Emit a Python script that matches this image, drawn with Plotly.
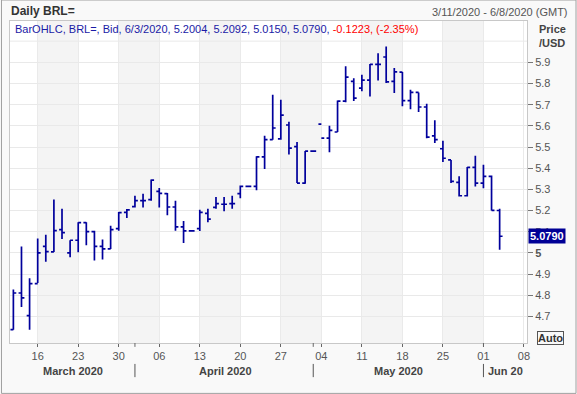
import plotly.graph_objects as go

# ---------------- data ----------------
dates = [
    "2020-03-11", "2020-03-12", "2020-03-13",
    "2020-03-16", "2020-03-17", "2020-03-18", "2020-03-19", "2020-03-20",
    "2020-03-23", "2020-03-24", "2020-03-25", "2020-03-26", "2020-03-27",
    "2020-03-30", "2020-03-31", "2020-04-01", "2020-04-02", "2020-04-03",
    "2020-04-06", "2020-04-07", "2020-04-08", "2020-04-09", "2020-04-10",
    "2020-04-13", "2020-04-14", "2020-04-15", "2020-04-16", "2020-04-17",
    "2020-04-20", "2020-04-21", "2020-04-22", "2020-04-23", "2020-04-24",
    "2020-04-27", "2020-04-28", "2020-04-29", "2020-04-30", "2020-05-01",
    "2020-05-04", "2020-05-05", "2020-05-06", "2020-05-07", "2020-05-08",
    "2020-05-11", "2020-05-12", "2020-05-13", "2020-05-14", "2020-05-15",
    "2020-05-18", "2020-05-19", "2020-05-20", "2020-05-21", "2020-05-22",
    "2020-05-25", "2020-05-26", "2020-05-27", "2020-05-28", "2020-05-29",
    "2020-06-01", "2020-06-02", "2020-06-03",
]
open_ = [
    4.638, 4.811, 4.704,
    4.855, 5.031, 5.005, 5.110, 5.000,
    5.060, 5.143, 5.101, 5.031, 5.019,
    5.115, 5.192, 5.219, 5.247, 5.252,
    5.291, 5.280, 5.217, 5.123, 5.104,
    5.115, 5.187, 5.215, 5.230, 5.233,
    5.280, 5.314, 5.314, 5.454, 5.535,
    5.539, 5.604, 5.502, 5.330, 5.481,
    5.608, 5.542, 5.571, 5.717, 5.810,
    5.778, 5.816, 5.890, 5.925, 5.810,
    5.854, 5.719, 5.758, 5.689, 5.553,
    5.492, 5.439, 5.333, 5.270, 5.404,
    5.330, 5.362, 5.2004,
]
high = [
    4.827, 5.031, 4.881,
    5.068, 5.086, 5.252, 5.209, 5.060,
    5.145, 5.145, 5.105, 5.063, 5.129,
    5.193, 5.208, 5.270, 5.280, 5.347,
    5.307, 5.283, 5.247, 5.151, 5.104,
    5.204, 5.209, 5.264, 5.264, 5.270,
    5.319, 5.314, 5.456, 5.553, 5.747,
    5.723, 5.619, 5.524, 5.481, 5.481,
    5.542, 5.601, 5.720, 5.881, 5.825,
    5.841, 5.892, 5.943, 5.975, 5.873,
    5.854, 5.770, 5.758, 5.704, 5.626,
    5.530, 5.439, 5.362, 5.406, 5.459,
    5.417, 5.366, 5.2092,
]
low = [
    4.638, 4.745, 4.638,
    4.858, 4.958, 5.005, 5.066, 4.980,
    5.003, 5.036, 4.965, 4.969, 5.019,
    5.105, 5.165, 5.215, 5.215, 5.247,
    5.215, 5.178, 5.105, 5.047, 5.104,
    5.104, 5.145, 5.209, 5.197, 5.209,
    5.258, 5.314, 5.296, 5.396, 5.535,
    5.535, 5.465, 5.330, 5.327, 5.481,
    5.542, 5.475, 5.571, 5.712, 5.717,
    5.763, 5.739, 5.814, 5.802, 5.755,
    5.692, 5.679, 5.665, 5.542, 5.519,
    5.429, 5.330, 5.267, 5.267, 5.314,
    5.305, 5.201, 5.0150,
]
close = [
    4.811, 4.788, 4.855,
    5.000, 5.006, 5.105, 5.096, 5.060,
    5.143, 5.101, 5.031, 5.019, 5.110,
    5.190, 5.203, 5.247, 5.247, 5.344,
    5.281, 5.217, 5.123, 5.104, 5.104,
    5.192, 5.160, 5.233, 5.230, 5.233,
    5.314, 5.314, 5.454, 5.535, 5.590,
    5.651, 5.495, 5.330, 5.481, 5.481,
    5.542, 5.579, 5.717, 5.830, 5.731,
    5.816, 5.890, 5.890, 5.808, 5.855,
    5.719, 5.758, 5.689, 5.547, 5.535,
    5.447, 5.338, 5.270, 5.404, 5.330,
    5.362, 5.2013, 5.0790,
]

week_ticks = ["2020-03-16", "2020-03-23", "2020-03-30", "2020-04-06", "2020-04-13",
              "2020-04-20", "2020-04-27", "2020-05-04", "2020-05-11", "2020-05-18",
              "2020-05-25", "2020-06-01", "2020-06-08"]
week_labels = ["16", "23", "30", "06", "13", "20", "27", "04", "11", "18", "25", "01", "08"]

shaded_weeks = [("2020-03-16", "2020-03-23"), ("2020-03-30", "2020-04-06"),
                ("2020-04-13", "2020-04-20"), ("2020-04-27", "2020-05-04"),
                ("2020-05-11", "2020-05-18"), ("2020-05-25", "2020-06-01")]

month_starts = ["2020-04-01", "2020-05-01", "2020-06-01"]
month_labels = [("March 2020", 0.1220), ("April 2020", 0.4159), ("May 2020", 0.7524), ("Jun 20", 0.9584)]

price_ticks = [4.7, 4.8, 4.9, 5.0, 5.1, 5.2, 5.3, 5.4, 5.5, 5.6, 5.7, 5.8, 5.9]
price_labels = ["4.7", "4.8", "4.9", "<b>5</b>", "5.1", "5.2", "5.3", "5.4", "5.5",
                "5.6", "5.7", "5.8", "5.9"]

last_price = 5.0790

FONT = "Liberation Sans, Arial, sans-serif"
BLUE = "#00009c"

fig = go.Figure()
fig.add_trace(go.Ohlc(
    x=dates, open=open_, high=high, low=low, close=close,
    increasing=dict(line=dict(color=BLUE, width=1.7)),
    decreasing=dict(line=dict(color=BLUE, width=1.7)),
    tickwidth=0.36, showlegend=False, hoverinfo="skip",
))

shapes = []
for a, b in shaded_weeks:
    shapes.append(dict(type="rect", xref="x", yref="paper", x0=a, x1=b, y0=0, y1=1,
                       fillcolor="#f4f4f4", line=dict(width=0), layer="below"))
# 6.0 gridline
shapes.append(dict(type="line", xref="paper", yref="y", x0=0, x1=1, y0=6.0, y1=6.0,
                   line=dict(color="#e9e9e9", width=1), layer="below"))
for m in month_starts:
    shapes.append(dict(type="line", xref="x", yref="paper", x0=m, x1=m, y0=0, y1=-0.012,
                       line=dict(color="#666", width=1)))
for m in month_starts:
    shapes.append(dict(type="line", xref="x", yref="paper", x0=m, x1=m, y0=-0.065, y1=-0.106,
                       line=dict(color="#555", width=1)))
# outer frame
shapes.append(dict(type="rect", xref="paper", yref="paper", x0=-0.0165, x1=1.0948,
                   y0=-0.1565, y1=1.0652, line=dict(color="#a0a0a0", width=1)))

annotations = [
    dict(text="<b>Daily BRL=</b>", xref="paper", yref="paper", x=-0.001, y=1.031,
         xanchor="left", yanchor="middle", showarrow=False,
         font=dict(family=FONT, size=12, color="#333")),
    dict(text="3/11/2020 - 6/8/2020 (GMT)", xref="paper", yref="paper", x=1.0826, y=1.028,
         xanchor="right", yanchor="middle", showarrow=False,
         font=dict(family=FONT, size=11, color="#555")),
    dict(text=("<span style='color:#1a1aa6'>BarOHLC, BRL=, Bid, 6/3/2020, 5.2004, 5.2092, "
               "5.0150, 5.0790, </span><span style='color:#ff0000'>-0.1223, (-2.35%)</span>"),
         xref="paper", yref="paper", x=0.006, y=0.975, xanchor="left", yanchor="middle",
         showarrow=False, font=dict(family=FONT, size=11)),
    dict(text="<b>Price</b><br><b>/USD</b>", xref="paper", yref="paper", x=1.019, y=0.953,
         xanchor="left", yanchor="middle", align="left", showarrow=False,
         font=dict(family=FONT, size=11, color="#444")),
    dict(text="<b>" + f"{last_price:.4f}" + "</b>", xref="paper", yref="y", x=1.001, y=last_price,
         xanchor="left", yanchor="middle", showarrow=False, bgcolor="#000096", borderpad=1,
         font=dict(family=FONT, size=11, color="white")),
    dict(text="<b>Auto</b>", xref="paper", yref="paper", x=1.019, y=0.016,
         xanchor="left", yanchor="middle", showarrow=False, bordercolor="#555",
         borderwidth=1, borderpad=0, font=dict(family=FONT, size=11, color="#333")),
]
for name, xp in month_labels:
    annotations.append(dict(text="<b>" + name + "</b>", xref="paper", yref="paper", x=xp,
                            y=-0.086, xanchor="center", yanchor="middle", showarrow=False,
                            font=dict(family=FONT, size=11, color="#444")))

fig.update_layout(
    width=577, height=394, autosize=False,
    margin=dict(l=10, r=50, t=21, b=51),
    paper_bgcolor="#f9f9f9", plot_bgcolor="white",
    shapes=shapes, annotations=annotations,
    font=dict(family=FONT, size=11, color="#555"),
    xaxis=dict(
        type="date", range=["2020-03-10 14:00", "2020-06-08 09:00"],
        rangebreaks=[dict(bounds=["sat", "mon"])],
        tickvals=week_ticks, ticktext=week_labels,
        ticks="outside", ticklen=3, tickcolor="#666",
        tickfont=dict(family=FONT, size=11, color="#555"),
        showgrid=True, gridcolor="#eaeaea", gridwidth=1,
        showline=True, linecolor="#c8c8c8", mirror=True, zeroline=False,
        rangeslider=dict(visible=False), fixedrange=True, automargin=False,
    ),
    yaxis=dict(
        side="right", range=[4.575, 6.095],
        tickvals=price_ticks, ticktext=price_labels,
        ticks="outside", ticklen=5, tickcolor="#777",
        tickfont=dict(family=FONT, size=11, color="#555"),
        showgrid=True, gridcolor="#e9e9e9", gridwidth=1,
        showline=True, linecolor="#c8c8c8", mirror=True, zeroline=False,
        fixedrange=True, automargin=False,
    ),
)

fig.write_html("out.html", config={"displayModeBar": False},
               post_script="document.body.style.margin='0';")
